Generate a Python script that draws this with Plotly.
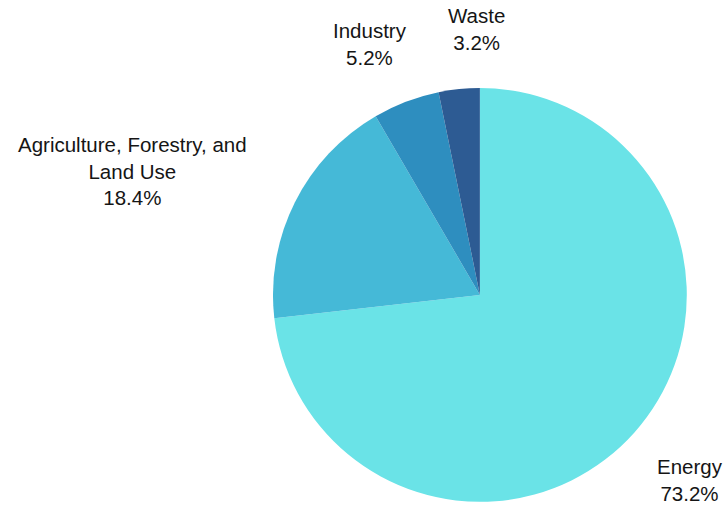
import plotly.graph_objects as go

labels = ["Energy", "Agriculture, Forestry, and<br>Land Use", "Industry", "Waste"]
values = [73.2, 18.4, 5.2, 3.2]
colors = ["#6ae3e7", "#45b9d7", "#2e8ebf", "#2d5b93"]

# label anchor positions (paper coords, layout only)
label_x = [690 / 726, 132.5 / 726, 370 / 726, 476 / 726]
label_y = [1 - 480 / 505, 1 - 170.5 / 505, 1 - 44 / 505, 1 - 28.5 / 505]

fig = go.Figure(go.Pie(
    labels=labels,
    values=values,
    sort=False,
    direction="clockwise",
    rotation=0,
    marker=dict(colors=colors, line=dict(width=0)),
    textinfo="none",
    showlegend=False,
    hoverinfo="label+percent",
    domain=dict(x=[0.376, 0.946], y=[0.006, 0.826]),
))

total = sum(values)
for lab, val, x, y in zip(labels, values, label_x, label_y):
    fig.add_annotation(
        x=x, y=y, xref="paper", yref="paper",
        xanchor="center", yanchor="middle",
        text=f"{lab}<br>{val / total * 100:.1f}%",
        showarrow=False,
        font=dict(family="Liberation Sans, Arial, sans-serif", size=20.5, color="#151515"),
    )

fig.update_layout(
    width=726, height=505,
    margin=dict(l=0, r=0, t=0, b=0),
    paper_bgcolor="white",
    plot_bgcolor="white",
)

fig.write_html("out.html")
